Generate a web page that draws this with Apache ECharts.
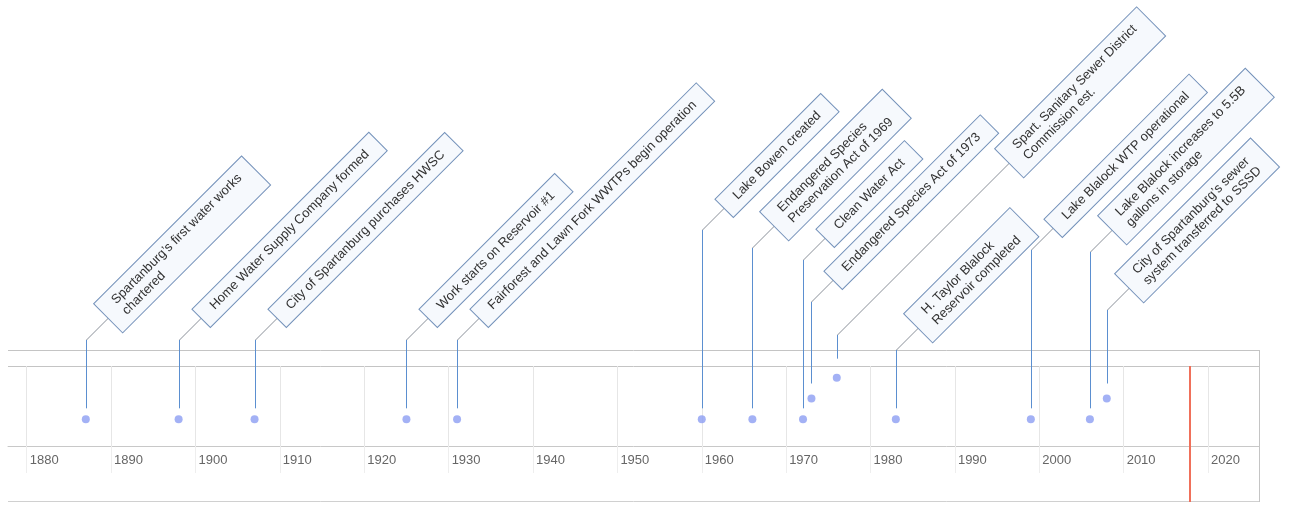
<!DOCTYPE html>
<html><head><meta charset="utf-8">
<script src="https://cdn.jsdelivr.net/npm/echarts@6/dist/echarts.min.js"></script>
<style>html,body{margin:0;padding:0;background:#fff}#c{width:1295px;height:506px}</style>
</head><body><div id="c"></div>
<script>
// ---- data ----
const eventYears = [1887, 1898, 1907, 1925, 1931, 1960, 1966, 1972, 1973, 1976, 1983, 1999, 2006, 2008];
const eventLevels = [1, 1, 1, 1, 1, 1, 1, 1, 2, 3, 1, 1, 1, 2];
const eventLabels = [
  "Spartanburg\u2019s first water works\nchartered",
  "Home Water Supply Company formed",
  "City of Spartanburg purchases HWSC",
  "Work starts on Reservoir #1",
  "Fairforest and Lawn Fork WWTPs begin operation",
  "Lake Bowen created",
  "Endangered Species\nPreservation Act of 1969",
  "Clean Water Act",
  "Endangered Species Act of 1973",
  "Spart. Sanitary Sewer District\nCommission est.",
  "H. Taylor Blalock\nReservoir completed",
  "Lake Blalock WTP operational",
  "Lake Blalock increases to 5.5B\ngallons in storage",
  "City of Spartanburg\u2019s sewer\nsystem transferred to SSSD"
];
const tickYears = [1880, 1890, 1900, 1910, 1920, 1930, 1940, 1950, 1960, 1970, 1980, 1990, 2000, 2010, 2020];
const todayYear = 2017.87;

// ---- layout (px) ----
const labelLift = [26, 26, 26, 26, 26, 136, 118, 106, 64, 31, 16, 116, 114, 56];
const labelReach = [22, 22, 22, 22, 22, 22, 22, 22, 22, 172, 22, 22, 22, 22];

const FONT = '"Liberation Sans", Arial, Helvetica, sans-serif';
const chart = echarts.init(document.getElementById('c'), null, {renderer: 'canvas'});

const pointData = eventYears.map((y, i) => [y, eventLevels[i], i]);

function renderEvent(params, api) {
  const i = api.value(2);
  const lvl = api.value(1);
  const p = api.coord([api.value(0), lvl]);
  const cs = params.coordSys;
  const x = Math.round(p[0]) + 0.5;
  const topY = p[1] - (7 + lvl * 4);
  const bendY = cs.y - labelLift[i];
  const d = labelReach[i];
  const ax = x + d, ay = bendY - d;
  return {
    type: 'group',
    children: [
      {type: 'line', shape: {x1: x, y1: topY, x2: x, y2: bendY}, style: {stroke: '#5b8fd0', lineWidth: 1}},
      {type: 'line', shape: {x1: x, y1: bendY, x2: ax, y2: ay}, style: {stroke: '#8a9099', lineWidth: 1}},
      {type: 'text', x: ax, y: ay, rotation: Math.PI / 4,
        style: {
          text: eventLabels[i], x: 0, y: 0, align: 'left', verticalAlign: 'middle',
          font: '13px ' + FONT, fill: '#333333', lineHeight: 15,
          backgroundColor: '#f6f9fd', borderColor: '#7391ba', borderWidth: 1,
          padding: [5, 15, 5, 15]
        }}
    ]
  };
}

function renderToday(params, api) {
  const p = api.coord([api.value(0), 0]);
  const cs = params.coordSys;
  const x = Math.round(p[0]);
  return {type: 'line', shape: {x1: x, y1: cs.y, x2: x, y2: cs.y + cs.height + 56},
    style: {stroke: '#f0705a', lineWidth: 2}};
}

const option = {
  animation: false,
  backgroundColor: '#ffffff',
  grid: {left: 8, right: 36, top: 366, height: 80, containLabel: false, outerBoundsMode: 'none'},
  xAxis: {
    type: 'value', min: 1877.78, max: 2026.04,
    axisLine: {show: true, onZero: false, lineStyle: {color: '#c8c8c8'}},
    axisTick: {show: true, customValues: tickYears, length: 27, lineStyle: {color: '#eeeeee'}},
    axisLabel: {customValues: tickYears, align: 'left', margin: 8, padding: [0, 0, 0, 3],
      color: '#666666', fontSize: 13, fontFamily: FONT, formatter: v => String(v)},
    splitLine: {show: true, lineStyle: {color: '#e6e6e6'}}
  },
  yAxis: {type: 'value', min: -0.28, max: 3.56, show: false},
  graphic: [
    {type: 'line', shape: {x1: 8, y1: 350.5, x2: 1259, y2: 350.5}, style: {stroke: '#c4c4c4', lineWidth: 1}, silent: true},
    {type: 'line', shape: {x1: 8, y1: 366.5, x2: 1259, y2: 366.5}, style: {stroke: '#c4c4c4', lineWidth: 1}, silent: true},
    {type: 'line', shape: {x1: 8, y1: 501.5, x2: 1259, y2: 501.5}, style: {stroke: '#d0d0d0', lineWidth: 1}, silent: true},
    {type: 'line', shape: {x1: 1259.5, y1: 350, x2: 1259.5, y2: 502}, style: {stroke: '#c4c4c4', lineWidth: 1}, silent: true}
  ],
  series: [
    {type: 'custom', renderItem: renderToday, data: [[todayYear, 0]], encode: {x: 0, y: 1}, silent: true, z: 1},
    {type: 'custom', renderItem: renderEvent, data: pointData, encode: {x: 0, y: 1}, silent: true, z: 2},
    {type: 'scatter', data: pointData, symbolSize: 8, itemStyle: {color: '#8c9ef2'}, silent: true, z: 3}
  ]
};
chart.setOption(option);
</script></body></html>
